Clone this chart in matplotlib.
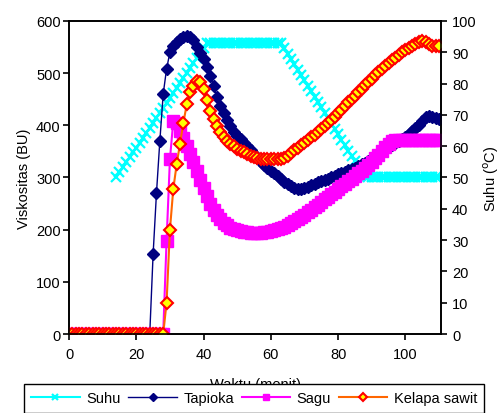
import matplotlib
matplotlib.use("Agg")
import matplotlib.pyplot as plt
import numpy as np

plt.rcParams['font.family'] = ['Liberation Sans', 'DejaVu Sans']

# time in minutes (one reading per minute)
time = list(range(0, 111))

tapioka = [0] * 25 + [
    153, 270, 370, 460, 508, 540, 552, 560, 565, 569,          # 25-34
    571, 570, 563, 550, 538, 528, 512, 495, 475, 455,          # 35-44
    437, 423, 410, 398, 388, 380, 373, 366, 360, 353,          # 45-54
    345, 337, 330, 323, 318, 313, 309, 303, 297, 292,          # 55-64
    287, 283, 279, 277, 277, 279, 282, 285, 288, 291,          # 65-74
    293, 295, 298, 300, 303, 306, 308, 311, 314, 316,          # 75-84
    319, 322, 325, 328, 331, 336, 340, 344, 349, 353,          # 85-94
    358, 362, 366, 370, 374, 378, 383, 390, 395, 400,          # 95-104
    408, 415, 418, 416, 414, 413]                              # 105-110

sagu = [0] * 29 + [
    178, 335, 408, 405, 390, 375,                              # 29-34
    360, 345, 330, 313, 295, 280, 265, 250, 238, 228,          # 35-44
    220, 213, 208, 204, 201, 199, 197, 196, 195, 194,          # 45-54
    194, 194, 194, 195, 196, 197, 199, 201, 203, 206,          # 55-64
    209, 212, 216, 220, 224, 228, 233, 238, 243, 248,          # 65-74
    253, 258, 263, 268, 273, 278, 283, 288, 293, 298,          # 75-84
    303, 308, 313, 318, 323, 330, 337, 344, 351, 358,          # 85-94
    365, 370, 372, 372, 372, 372, 372, 372, 372, 372,          # 95-104
    372, 372, 372, 372, 372, 372]                              # 105-110

kelapa_sawit = [0] * 29 + [
    60, 200, 278, 325, 365, 405,                               # 29-34
    440, 463, 475, 485, 484, 470, 449, 428, 412, 398,          # 35-44
    387, 378, 370, 365, 360, 355, 351, 348, 345, 342,          # 45-54
    339, 337, 336, 335, 335, 335, 335, 335, 336, 338,          # 55-64
    342, 347, 352, 357, 362, 367, 372, 377, 382, 387,          # 65-74
    393, 399, 405, 410, 416, 423, 430, 437, 444, 450,          # 75-84
    457, 463, 470, 477, 483, 489, 496, 502, 508, 514,          # 85-94
    519, 525, 530, 535, 540, 544, 548, 552, 556, 560,          # 95-104
    562, 560, 555, 552, 552, 552]                              # 105-110

suhu_time = list(range(14, 111))
suhu = [
    50, 51.6, 53.2, 54.8, 56.4, 58, 59.5, 61.1, 62.7, 64.3,    # 14-23
    65.9, 67.5, 69.1, 70.7, 72.3, 73.9, 75.5, 77.1, 78.7, 80.3,  # 24-33
    81.9, 83.5, 85, 86.6, 88.2, 89.8, 91.4, 93, 93, 93,        # 34-43
    93, 93, 93, 93, 93, 93, 93, 93, 93, 93,                    # 44-53
    93, 93, 93, 93, 93, 93, 93, 93, 93, 93,                    # 54-63
    91.3, 89.6, 87.8, 86.1, 84.4, 82.7, 81, 79.2, 77.5, 75.8,  # 64-73
    74.1, 72.4, 70.6, 68.9, 67.2, 65.5, 63.8, 62, 60.3, 58.6,  # 74-83
    56.9, 55.2, 53.4, 51.7, 50, 50, 50, 50, 50, 50,            # 84-93
    50, 50, 50, 50, 50, 50, 50, 50, 50, 50,                    # 94-103
    50, 50, 50, 50, 50, 50, 50]                                # 104-110

fig = plt.figure(figsize=(5.02, 4.14), dpi=100)
ax = fig.add_axes([0.1375, 0.1908, 0.741, 0.7561])
ax2 = ax.twinx()
# left-axis series drawn above the temperature line
ax.set_zorder(ax2.get_zorder() + 1)
ax.patch.set_visible(False)

l_suhu, = ax2.plot(suhu_time, suhu, color='#00FFFF', marker='x', ms=7, mew=1.6, lw=1.5)
l_tap, = ax.plot(time, tapioka, color='#000080', marker='D', ms=6, lw=1)
l_sagu, = ax.plot(time, sagu, color='#FF00FF', marker='s', ms=8, lw=1.5)
l_kel, = ax.plot(time, kelapa_sawit, color='#FF6600', marker='D', ms=6.5,
                 mfc='#FFFF00', mec='#FF0000', mew=1.5, lw=1.5)

ax.set_xlim(0, 110.6)
ax.set_ylim(0, 600)
ax2.set_ylim(0, 100)
ax.set_xticks([0, 20, 40, 60, 80, 100])
ax.set_yticks(range(0, 601, 100))
ax2.set_yticks(range(0, 101, 10))

fs = 10.5
ax.tick_params(axis='x', direction='out', length=4, width=1.2, pad=5, labelsize=fs)
ax.tick_params(axis='y', direction='out', length=4, width=1.2, pad=2, labelsize=fs)
ax2.tick_params(axis='y', direction='out', length=4, width=1.2, pad=4, labelsize=fs)
for a in (ax, ax2):
    for s in a.spines.values():
        s.set_linewidth(1.2)

ax.set_xlabel('Waktu (menit)', fontsize=fs, labelpad=12)
ax.set_ylabel('Viskositas (BU)', fontsize=fs, labelpad=4)
ax2.set_ylabel('Suhu ($^{\\mathrm{o}}$C)', fontsize=fs, labelpad=3)

leg = fig.legend([l_suhu, l_tap, l_sagu, l_kel], ['Suhu', 'Tapioka', 'Sagu', 'Kelapa sawit'],
                 loc='upper left', bbox_to_anchor=(0.048, 0.070), ncol=4, fontsize=fs,
                 frameon=True, fancybox=False, framealpha=1, edgecolor='black',
                 handlelength=3.3, handletextpad=0.45, columnspacing=0.55,
                 borderaxespad=0, borderpad=0.5)
leg.get_frame().set_linewidth(1.0)
for h in leg.legend_handles:
    h.set_markersize(4.5)

fig.savefig('out.png', dpi=100)
